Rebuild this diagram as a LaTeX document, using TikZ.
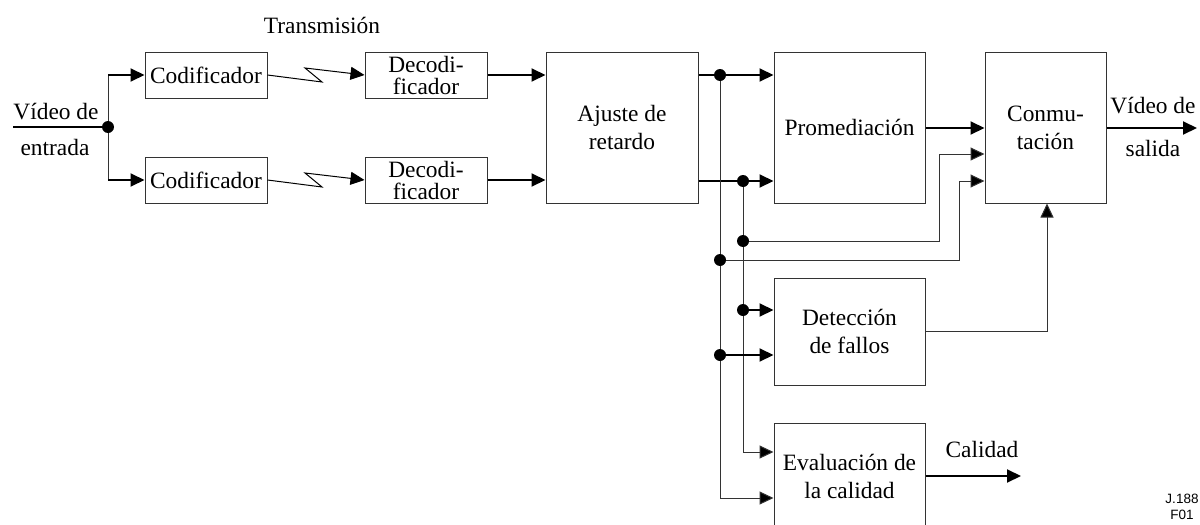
\documentclass[tikz,border=0pt]{standalone}
\usepackage{fontspec}
\setmainfont{Liberation Serif}
\setsansfont{Liberation Sans}
\usetikzlibrary{arrows.meta}
\tikzset{x=1pt, y=-1pt,
  blk/.style={draw=black!80, line width=1pt, align=center, inner sep=0pt,
    font=\fontsize{23.4}{28}\selectfont},
  lbl/.style={inner sep=0pt, font=\fontsize{23.4}{28}\selectfont},
  tip/.style={-{Triangle[length=14pt,width=13pt,fill=black]}},
  sig/.style={line width=2pt, tip},
  wire/.style={draw=black!80, line width=1pt},
  fwire/.style={wire, tip}}
\newcommand{\junc}[1]{\fill (#1) circle (6pt);}

\begin{document}
\begin{tikzpicture}
  \useasboundingbox (0,0) rectangle (1200,525);

  % boxes
  \node[blk, minimum width=122pt, minimum height=46pt] (cod1) at (206,75) {Codificador};
  \node[blk, minimum width=122pt, minimum height=46pt] (cod2) at (206,180) {Codificador};
  \node[blk, minimum width=122pt, minimum height=46pt,
        font=\fontsize{23.4}{22}\selectfont] (dec1) at (426,75) {Decodi-\\ficador};
  \node[blk, minimum width=122pt, minimum height=46pt,
        font=\fontsize{23.4}{22}\selectfont] (dec2) at (426,180) {Decodi-\\ficador};
  \node[blk, minimum width=152pt, minimum height=151pt] (aju) at (622,127.5) {Ajuste de\\retardo};
  \node[blk, minimum width=151pt, minimum height=151pt] (prom) at (849.5,127.5) {Promediación};
  \node[blk, minimum width=121pt, minimum height=151pt] (conm) at (1045.5,127.5) {Conmu-\\tación};
  \node[blk, minimum width=151pt, minimum height=107pt] (det) at (849.5,331.5) {Detección\\de fallos};
  \node[blk, minimum width=151pt, minimum height=106pt] (eval) at (849.5,476) {Evaluación de\\la calidad};

  % labels
  \node[lbl] (trans) at (322,25) {Transmisión};
  \node[lbl] (vin1) at (56,112) {Vídeo de};
  \node[lbl] (vin2) at (55,147) {entrada};
  \node[lbl] (vout1) at (1153,106) {Vídeo de};
  \node[lbl] (vout2) at (1153,148) {salida};
  \node[lbl] (cal) at (982,449) {Calidad};
  \node[inner sep=0pt, font=\sffamily\fontsize{13.5}{16}\selectfont, align=center]
    (ref) at (1182,507) {J.188\\F01};

  % junctions
  \coordinate (in) at (13,127);
  \coordinate (j0) at (108,127);
  \coordinate (j1) at (720,75);
  \coordinate (j2) at (743,181);
  \coordinate (j3) at (743,241);
  \coordinate (j4) at (720,260);
  \coordinate (j5) at (743,310);
  \coordinate (j6) at (720,355);
  \coordinate (out) at (1197,128);
  \coordinate (calout) at (1021,476);

  % input
  \draw[line width=2pt] (in) -- (j0);
  \draw[wire] (j0 |- cod1) -- (j0 |- cod2);
  \draw[sig] (j0 |- cod1) -- (cod1);
  \draw[sig] (j0 |- cod2) -- (cod2);

  % transmission
  \draw[fwire, draw=black] (cod1.east) -- (322,82) -- (305,68) -- (dec1.west);
  \draw[fwire, draw=black] (cod2.east) -- (322,187) -- (305,173) -- (dec2.west);

  \draw[sig] (dec1) -- (aju.west |- dec1);
  \draw[sig] (dec2) -- (aju.west |- dec2);

  % outputs of delay adjust
  \draw[sig] (aju.east |- j1) -- (prom.west |- j1);
  \draw[sig] (aju.east |- j2) -- (prom.west |- j2);
  \draw[fwire] (j1) -- (720,498) -- (eval.west |- 0,498);
  \draw[fwire] (j2) -- (743,452) -- (eval.west |- 0,452);
  \draw[fwire] (j3) -- (939,241) -- (939,154) -- (conm.west |- 0,154);
  \draw[fwire] (j4) -- (959,260) -- (959,181) -- (conm.west |- 0,181);
  \draw[sig] (j5) -- (det.west |- j5);
  \draw[sig] (j6) -- (det.west |- j6);

  \draw[sig] (prom.east |- 0,128) -- (conm.west |- 0,128);
  \draw[fwire] (det.east) -- (1047,331.5) -- (1047,203.5);
  \draw[sig] (conm.east |- out) -- (out);
  \draw[sig] (eval.east) -- (calout);

  \junc{j0} \junc{j1} \junc{j2} \junc{j3} \junc{j4} \junc{j5} \junc{j6}
\end{tikzpicture}
\end{document}
